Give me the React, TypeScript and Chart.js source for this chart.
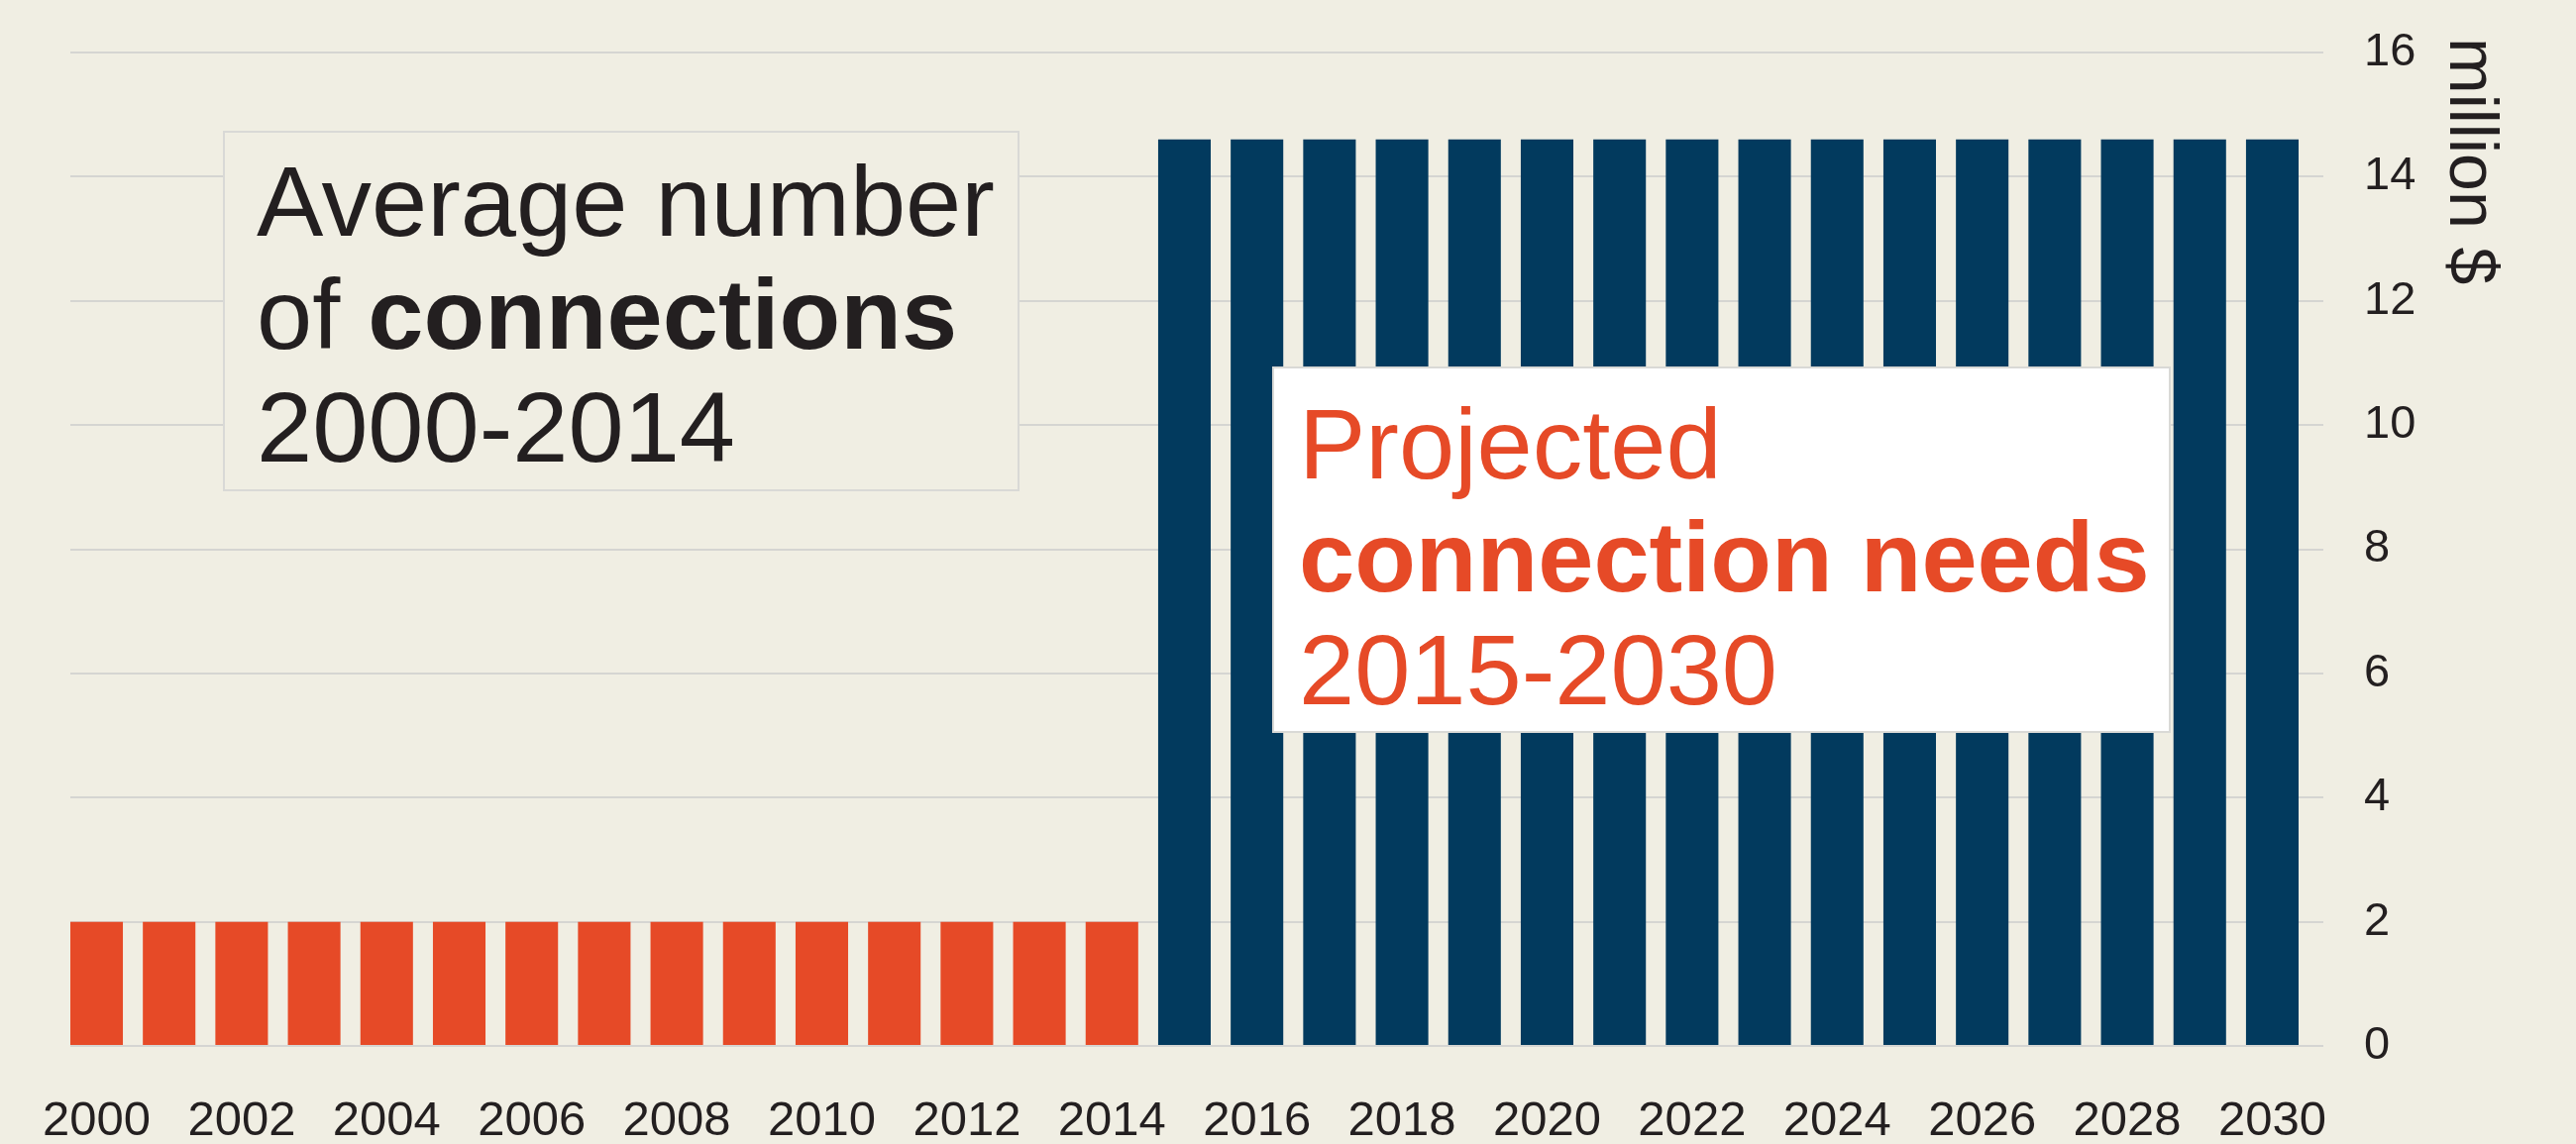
import React, { useEffect, useRef } from 'react';
import { Chart, registerables } from 'chart.js';

Chart.register(...registerables);

// ---- Data ----
const historicalYears = [2000, 2001, 2002, 2003, 2004, 2005, 2006, 2007, 2008, 2009, 2010, 2011, 2012, 2013, 2014];
const historicalValues = [2, 2, 2, 2, 2, 2, 2, 2, 2, 2, 2, 2, 2, 2, 2];
const projectedYears = [2015, 2016, 2017, 2018, 2019, 2020, 2021, 2022, 2023, 2024, 2025, 2026, 2027, 2028, 2029, 2030];
const projectedValues = [14.6, 14.6, 14.6, 14.6, 14.6, 14.6, 14.6, 14.6, 14.6, 14.6, 14.6, 14.6, 14.6, 14.6, 14.6, 14.6];
const xTickYears = [2000, 2002, 2004, 2006, 2008, 2010, 2012, 2014, 2016, 2018, 2020, 2022, 2024, 2026, 2028, 2030];
const yAxisMax = 16;
const yAxisStep = 2;
const unitLabel = 'million $';

type Run = { text: string; bold: boolean };
const historicalNote: Run[][] = [
  [{ text: 'Average number', bold: false }],
  [{ text: 'of ', bold: false }, { text: 'connections', bold: true }],
  [{ text: '2000-2014', bold: false }],
];
const projectedNote: Run[][] = [
  [{ text: 'Projected', bold: false }],
  [{ text: 'connection needs', bold: true }],
  [{ text: '2015-2030', bold: false }],
];

// ---- Styles ----
const BG = '#f0eee3';
const ORANGE = '#e64a27';
const BLUE = '#023a5e';
const TEXT = '#231f20';
const GRID = '#d5d5d2';
const FONT = '"Liberation Sans", Arial, Helvetica, sans-serif';

const W = 2600;
const H = 1155;

function drawNote(
  ctx: CanvasRenderingContext2D,
  lines: Run[][],
  box: { x: number; y: number; w: number; h: number },
  fill: string,
  color: string,
  textX: number,
  firstBaseline: number,
  lineGap: number,
) {
  ctx.save();
  ctx.fillStyle = fill;
  ctx.fillRect(box.x, box.y, box.w, box.h);
  ctx.strokeStyle = '#d9d9d6';
  ctx.lineWidth = 2;
  ctx.strokeRect(box.x, box.y, box.w, box.h);
  ctx.fillStyle = color;
  ctx.textBaseline = 'alphabetic';
  ctx.textAlign = 'left';
  lines.forEach((runs, i) => {
    let x = textX;
    const y = firstBaseline + i * lineGap;
    runs.forEach((r) => {
      ctx.font = `${r.bold ? 'bold ' : ''}101px ${FONT}`;
      ctx.fillText(r.text, x, y);
      x += ctx.measureText(r.text).width;
    });
  });
  ctx.restore();
}

const backgroundPlugin = {
  id: 'bg',
  beforeDraw(chart: any) {
    const ctx = chart.ctx;
    ctx.save();
    ctx.fillStyle = BG;
    ctx.fillRect(0, 0, chart.width, chart.height);
    ctx.restore();
  },
};

const overlayPlugin = {
  id: 'overlay',
  afterDraw(chart: any) {
    const ctx: CanvasRenderingContext2D = chart.ctx;
    drawNote(ctx, historicalNote, { x: 226, y: 133, w: 802, h: 362 }, BG, TEXT, 259, 238, 114);
    drawNote(ctx, projectedNote, { x: 1285, y: 371, w: 905, h: 368 }, '#ffffff', ORANGE, 1311, 483, 114);
    // rotated unit label
    ctx.save();
    ctx.translate(2473, 38);
    ctx.rotate(Math.PI / 2);
    ctx.font = `68px ${FONT}`;
    ctx.fillStyle = TEXT;
    ctx.textAlign = 'left';
    ctx.textBaseline = 'alphabetic';
    ctx.fillText(unitLabel, 0, 0);
    ctx.restore();
  },
};

export default function App() {
  const ref = useRef<HTMLCanvasElement | null>(null);

  useEffect(() => {
    document.body.style.margin = '0';
    document.body.style.background = BG;
    if (!ref.current) return;
    const chart = new Chart(ref.current, {
      type: 'bar',
      data: {
        datasets: [
          {
            label: 'Average number of connections 2000-2014',
            data: historicalYears.map((y, i) => ({ x: y, y: historicalValues[i] })),
            backgroundColor: ORANGE,
            grouped: false,
            categoryPercentage: 1,
            barPercentage: 0.725,
          } as any,
          {
            label: 'Projected connection needs 2015-2030',
            data: projectedYears.map((y, i) => ({ x: y, y: projectedValues[i] })),
            backgroundColor: BLUE,
            grouped: false,
            categoryPercentage: 1,
            barPercentage: 0.725,
          } as any,
        ],
      },
      options: {
        animation: false,
        responsive: false,
        layout: { padding: { left: 71, top: 53, right: 0, bottom: 0 } },
        plugins: {
          legend: { display: false },
          tooltip: { enabled: false },
          title: { display: false },
        },
        scales: {
          x: {
            type: 'linear',
            offset: false,
            min: 1999.638,
            max: 2030.704,
            grid: { display: false, drawTicks: false },
            border: { display: false },
            afterBuildTicks: (scale: any) => {
              scale.ticks = xTickYears.map((v) => ({ value: v }));
            },
            afterFit: (scale: any) => {
              scale.height = 99;
              scale.paddingLeft = 0;
              scale.paddingRight = 0;
            },
            ticks: {
              autoSkip: false,
              maxRotation: 0,
              minRotation: 0,
              padding: 47,
              color: TEXT,
              font: { family: FONT, size: 49 },
              callback: (v: any) => String(v),
            },
          },
          y: {
            type: 'linear',
            position: 'right',
            min: 0,
            max: yAxisMax,
            grid: { color: GRID, lineWidth: 2, drawTicks: false },
            border: { display: false },
            afterFit: (scale: any) => {
              scale.width = 255;
              scale.paddingTop = 0;
              scale.paddingBottom = 0;
            },
            ticks: {
              stepSize: yAxisStep,
              padding: 41,
              color: TEXT,
              font: { family: FONT, size: 47 },
              callback: (v: any) => String(v),
            },
          },
        },
      } as any,
      plugins: [backgroundPlugin, overlayPlugin],
    });
    return () => chart.destroy();
  }, []);

  return (
    <div style={{ width: W, height: H, background: BG }}>
      <canvas ref={ref} width={W} height={H} style={{ display: 'block', width: W, height: H }} />
    </div>
  );
}
